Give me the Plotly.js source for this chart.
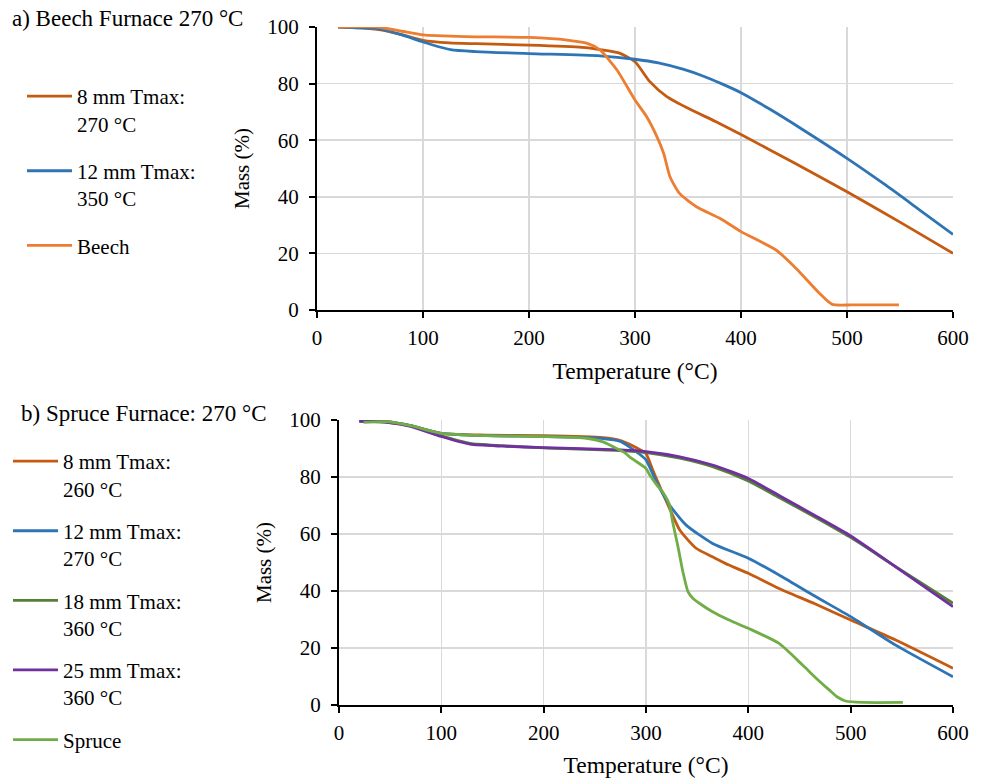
<!DOCTYPE html>
<html>
<head>
<meta charset="utf-8">
<script src="https://cdn.plot.ly/plotly-3.0.1.min.js"></script>
<style>html,body{margin:0;padding:0;background:#fff;}#chart{width:984px;height:778px;}</style>
</head>
<body>
<div id="chart"></div>
<script>
// ---------- Panel a) Beech ----------
const beech8T = [20, 40, 60, 80, 100, 125, 150, 200, 250, 267, 286, 300, 314, 330, 352, 376, 400, 450, 500, 552, 600];
const beech8M = [100, 99.7, 99, 97.3, 95.3, 94.4, 94.1, 93.6, 92.8, 92, 90.7, 87.7, 80.7, 75.4, 70.9, 66.6, 62, 52, 41.8, 30.6, 20];
const beech12T = [20, 40, 57, 80, 100, 126, 150, 200, 267, 300, 322, 346, 364, 382, 400, 427, 458, 500, 537, 568, 600];
const beech12M = [100, 99.7, 99.4, 97.2, 94.7, 92, 91.3, 90.6, 89.8, 88.6, 87.3, 85, 82.7, 79.9, 76.8, 71, 63.8, 53.6, 44, 35.5, 26.7];
const beechRefT = [20, 57, 80, 100, 141, 200, 236, 255, 267, 283, 300, 311, 320, 327, 333, 342, 358, 380, 400, 433, 452, 474, 486, 505, 549];
const beechRefM = [100, 100, 98.5, 97.2, 96.6, 96.3, 95.4, 94.2, 91.9, 84.8, 74.2, 68.3, 61.8, 55.4, 47.1, 41.2, 36.5, 32.4, 27.7, 21.2, 14.7, 5.9, 2, 1.8, 1.8];

// ---------- Panel b) Spruce ----------
const spruce8T = [20, 47, 70, 100, 144, 200, 258, 275, 284, 292, 300, 306, 310, 323, 333, 349, 365, 381, 400, 430, 465, 500, 544, 600];
const spruce8M = [99.6, 99.4, 98, 95.3, 94.7, 94.5, 93.8, 92.8, 91.5, 90, 88.2, 83, 79.5, 69, 61.4, 55, 52, 49.1, 46.2, 40.9, 35.5, 29.8, 22.8, 12.9];
const spruce12T = [20, 47, 70, 100, 144, 200, 258, 275, 284, 292, 300, 310, 323, 339, 365, 400, 430, 463, 500, 544, 600];
const spruce12M = [99.6, 99.4, 98, 95.3, 94.5, 94.2, 93.5, 92.5, 90.5, 88.5, 86, 78.4, 70.2, 63.2, 56.7, 51.5, 45.6, 38.6, 31, 21, 9.9];
const spruce18T = [20, 47, 70, 100, 128, 160, 200, 275, 300, 333, 365, 400, 430, 465, 500, 544, 600];
const spruce18M = [99.6, 99.2, 97.9, 94.4, 91.8, 91, 90.2, 89.3, 88.6, 86.6, 83.6, 78.6, 72.8, 66, 58.8, 48.5, 35.7];
const spruce25T = [20, 47, 70, 100, 128, 160, 200, 275, 300, 333, 365, 400, 430, 465, 500, 544, 600];
const spruce25M = [99.6, 99.2, 97.8, 94.2, 91.5, 90.8, 90.3, 89.5, 88.9, 87.1, 84.2, 79.5, 73.5, 66.5, 59.3, 48.5, 34.5];
const spruceRefT = [24, 47, 70, 100, 144, 200, 242, 258, 268, 278, 286, 300, 304, 311, 316, 323, 326, 331, 336, 341, 346, 355, 365, 380, 400, 430, 453, 466, 479, 487, 495, 512, 551];
const spruceRefM = [99.2, 99.4, 98, 95.3, 94.5, 94.2, 93.6, 92.3, 90.6, 88.8, 86.5, 83, 80.5, 77, 74.9, 70.2, 64.3, 56, 46.8, 39.8, 37.4, 35, 32.7, 30, 26.9, 21.6, 14, 9.5, 5.3, 2.8, 1.4, 0.9, 0.9];

// ---------- Labels ----------
const titleA = "a) Beech Furnace 270 °C";
const titleB = "b) Spruce Furnace: 270 °C";
const namesA = ["8 mm Tmax:<br>270 °C", "12 mm Tmax:<br>350 °C", "Beech"];
const namesB = ["8 mm Tmax:<br>260 °C", "12 mm Tmax:<br>270 °C", "18 mm Tmax:<br>360 °C", "25 mm Tmax:<br>360 °C", "Spruce"];
const xTitle = "Temperature (°C)";
const yTitle = "Mass (%)";
const xTicks = [0, 100, 200, 300, 400, 500, 600];
const yTicks = [0, 20, 40, 60, 80, 100];

const C8 = "#C55A11", C12 = "#2E75B6", CBeech = "#ED7D31", C18 = "#548235", C25 = "#7030A0", CSpruce = "#70AD47";
const LW = 2.8;

function tr(x, y, name, color, xa, ya, leg, grp) {
  return {x: x, y: y, name: name, type: "scatter", mode: "lines",
    line: {color: color, width: LW, shape: "spline", smoothing: 0.6},
    xaxis: xa, yaxis: ya, legend: leg, legendgroup: grp, hoverinfo: "skip"};
}

const data = [
  tr(beech8T, beech8M, namesA[0], C8, "x", "y", "legend", "a1"),
  tr(beech12T, beech12M, namesA[1], C12, "x", "y", "legend", "a2"),
  tr(beechRefT, beechRefM, namesA[2], CBeech, "x", "y", "legend", "a3"),
  tr(spruce8T, spruce8M, namesB[0], C8, "x2", "y2", "legend2", "b1"),
  tr(spruce12T, spruce12M, namesB[1], C12, "x2", "y2", "legend2", "b2"),
  tr(spruce18T, spruce18M, namesB[2], C18, "x2", "y2", "legend2", "b3"),
  tr(spruce25T, spruce25M, namesB[3], C25, "x2", "y2", "legend2", "b4"),
  tr(spruceRefT, spruceRefM, namesB[4], CSpruce, "x2", "y2", "legend2", "b5")
];

const FONT = "Liberation Serif, Times New Roman, serif";
const W = 984, H = 778;
const TICKF = {family: FONT, size: 21, color: "#000"};
const AXTF = {family: FONT, size: 23.5, color: "#000"};
const TITF = {family: FONT, size: 23, color: "#000"};
const LEGF = {family: FONT, size: 21, color: "#000"};

function xax(domain, anchor) {
  return {domain: domain, anchor: anchor, range: [0, 600], tickvals: xTicks, ticktext: xTicks.map(String),
    showgrid: true, gridcolor: "#d9d9d9", gridwidth: 1.5, zeroline: false,
    showline: true, linecolor: "#000", linewidth: 2, ticks: "outside", ticklen: 6, tickwidth: 2, tickcolor: "#000",
    tickfont: TICKF, ticklabelstandoff: 2,
    title: {text: xTitle, font: AXTF, standoff: 13}, fixedrange: true};
}
function yax(domain, anchor) {
  return {domain: domain, anchor: anchor, range: [0, 100], tickvals: yTicks, ticktext: yTicks.map(String),
    showgrid: true, gridcolor: "#d9d9d9", gridwidth: 1.5, zeroline: false,
    showline: true, linecolor: "#000", linewidth: 2, ticks: "outside", ticklen: 6, tickwidth: 2, tickcolor: "#000",
    tickfont: TICKF, ticklabelstandoff: 6,
    title: {text: yTitle, font: TICKF, standoff: 12}, fixedrange: true};
}

const layout = {
  width: W, height: H,
  margin: {l: 0, r: 0, t: 0, b: 0},
  paper_bgcolor: "#fff", plot_bgcolor: "#fff",
  font: {family: FONT, size: 21, color: "#000"},
  xaxis: xax([317 / W, 953 / W], "y"),
  yaxis: yax([(H - 310) / H, (H - 27) / H], "x"),
  xaxis2: xax([339 / W, 953 / W], "y2"),
  yaxis2: yax([(H - 705) / H, (H - 420) / H], "x2"),
  showlegend: true,
  legend: {x: 22 / W, y: 1 - 76 / H, xanchor: "left", yanchor: "top", bgcolor: "rgba(0,0,0,0)",
    font: LEGF, valign: "top", tracegroupgap: 17, traceorder: "grouped", itemwidth: 45},
  legend2: {x: 8 / W, y: 1 - 441 / H, xanchor: "left", yanchor: "top", bgcolor: "rgba(0,0,0,0)",
    font: LEGF, valign: "top", tracegroupgap: 12, traceorder: "grouped", itemwidth: 45},
  annotations: [
    {text: titleA, xref: "paper", yref: "paper", x: 10 / W, y: 1 - 19 / H, xanchor: "left", yanchor: "middle",
      showarrow: false, font: TITF},
    {text: titleB, xref: "paper", yref: "paper", x: 19 / W, y: 1 - 413 / H, xanchor: "left", yanchor: "middle",
      showarrow: false, font: TITF}
  ]
};

Plotly.newPlot("chart", data, layout, {displayModeBar: false, staticPlot: true});
</script>
</body>
</html>
